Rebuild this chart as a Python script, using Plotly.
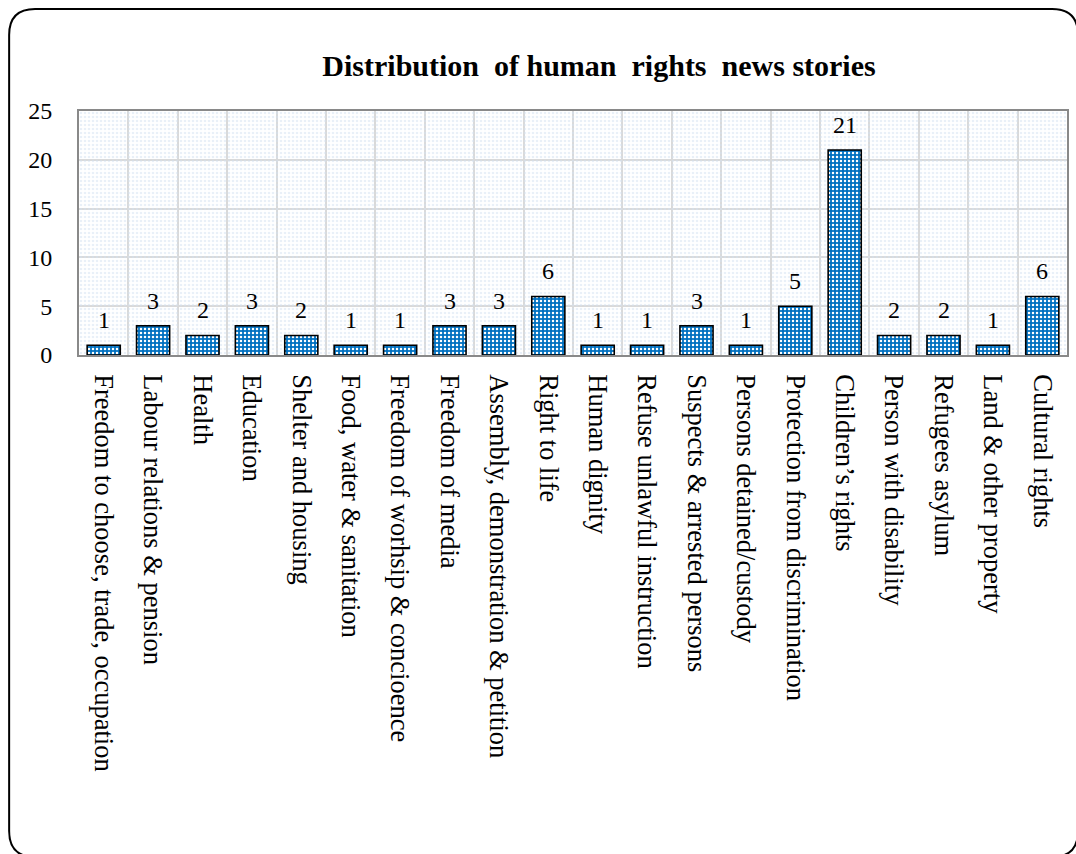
import plotly.graph_objects as go

categories = [
    "Freedom to choose, trade, occupation",
    "Labour relations & pension",
    "Health",
    "Education",
    "Shelter and housing",
    "Food, water & sanitation",
    "Freedom of worhsip & concioence",
    "Freedom of media",
    "Assembly, demonstration & petition",
    "Right to life",
    "Human dignity",
    "Refuse unlawful instruction",
    "Suspects & arrested persons",
    "Persons detained/custody",
    "Protection from discrimination",
    "Children\u2019s rights",
    "Person with disability",
    "Refugees asylum",
    "Land & other property",
    "Cultural rights",
]
stories = [1, 3, 2, 3, 2, 1, 1, 3, 3, 6, 1, 1, 3, 1, 5, 21, 2, 2, 1, 6]
y_ticks = [0, 5, 10, 15, 20, 25]

FONT = "Liberation Serif, Times New Roman, serif"
W, H = 1076, 854
ML, MR, MT, MB = 79, 7, 111, 499
PW, PH = W - ML - MR, H - MT - MB

fig = go.Figure()

# dotted plot-area fill: one full-width transparent bar per category
fig.add_trace(go.Bar(
    x=categories, y=[max(y_ticks)] * len(categories), width=1.0,
    marker=dict(color="rgba(0,0,0,0)", line=dict(width=0),
                pattern=dict(shape=".", fgcolor="#D3E1F2", bgcolor="rgba(0,0,0,0)",
                             fillmode="overlay", size=4, solidity=0.35)),
    hoverinfo="skip", showlegend=False,
))

# the story counts
fig.add_trace(go.Bar(
    x=categories, y=stories, width=0.67,
    marker=dict(color="#0070C0", line=dict(color="black", width=1.6),
                pattern=dict(shape=".", fgcolor="white", bgcolor="#0070C0",
                             fillmode="replace", size=4, solidity=0.3)),
    showlegend=False,
))

for c, v in zip(categories, stories):
    fig.add_annotation(x=c, y=v, text=str(v), showarrow=False, yanchor="bottom",
                       yshift=10, font=dict(family=FONT, size=24, color="black"))

# rounded frame around the whole chart, in pixel terms
def px(x):
    return (x - ML) / PW

def py(y):
    return (H - MB - y) / PH

L, T, R, B, r = 9, 9, 1080, 857, 26
path = (
    f"M {px(L + r)} {py(T)} L {px(R - r)} {py(T)} "
    f"Q {px(R)} {py(T)} {px(R)} {py(T + r)} L {px(R)} {py(B - r)} "
    f"Q {px(R)} {py(B)} {px(R - r)} {py(B)} L {px(L + r)} {py(B)} "
    f"Q {px(L)} {py(B)} {px(L)} {py(B - r)} L {px(L)} {py(T + r)} "
    f"Q {px(L)} {py(T)} {px(L + r)} {py(T)} Z"
)
fig.add_shape(type="path", path=path, xref="paper", yref="paper",
              line=dict(color="black", width=2), fillcolor="rgba(0,0,0,0)")

fig.update_layout(
    width=W, height=H,
    margin=dict(l=ML, r=MR, t=MT, b=MB),
    paper_bgcolor="white", plot_bgcolor="white",
    barmode="overlay",
    title=dict(text="<b>Distribution  of human  rights  news stories</b>",
               x=599 / W, xanchor="center", xref="container",
               y=1 - 65 / H, yanchor="middle", yref="container",
               font=dict(family=FONT, size=30, color="black")),
    font=dict(family=FONT, color="black"),
)

fig.update_xaxes(
    type="category", tickson="boundaries", showgrid=True,
    gridcolor="#D9D9D9", gridwidth=2,
    showline=True, linecolor="#898989", linewidth=2, mirror=True,
    ticks="", tickangle=90, ticklabelstandoff=12,
    tickfont=dict(family=FONT, size=26.5, color="black"),
)
fig.update_yaxes(
    range=[0, 25], tickvals=y_ticks, showgrid=True,
    gridcolor="#D9D9D9", gridwidth=2, zeroline=False,
    showline=True, linecolor="#898989", linewidth=2, mirror=True,
    ticks="", ticklabelstandoff=20,
    tickfont=dict(family=FONT, size=24, color="black"),
)

fig.write_html("out.html")
